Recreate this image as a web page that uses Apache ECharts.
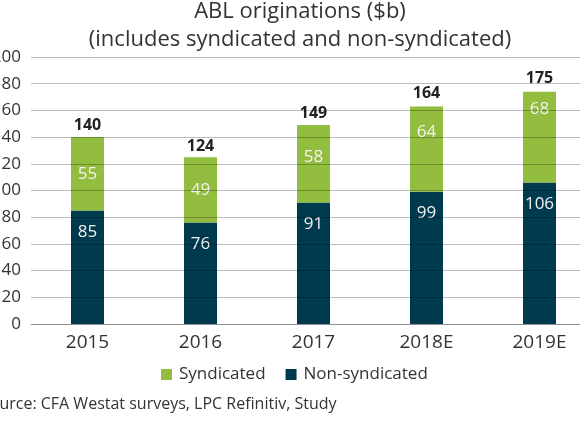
<!DOCTYPE html>
<html>
<head>
<meta charset="utf-8">
<script src="https://cdn.jsdelivr.net/npm/echarts@6/dist/echarts.min.js"></script>
<style>
    html, body { margin: 0; padding: 0; background: #fff; }
    #chart { width: 580px; height: 435px; }
</style>
</head>
<body>
<div id="chart"></div>
<script>
// chart data
const years = ['2015', '2016', '2017', '2018E', '2019E'];
const nonSyndicated = [85, 76, 91, 99, 106];
const syndicated = [55, 49, 58, 64, 68];
const totals = [140, 124, 149, 164, 175];
const yTicks = [0, 20, 40, 60, 80, 100, 120, 140, 160, 180, 200];

// label nudges for the syndicated values (px, as placed in the original)
const synLabelShift = [0, 0, -7, -17, -28];

const green = '#92bd3e';
const navy = '#003a4e';
const font = '"Open Sans", "Noto Sans", sans-serif';

var myChart = echarts.init(document.getElementById('chart'));

var option = {
    animation: false,
    textStyle: { fontFamily: font },
    title: {
        text: 'ABL originations ($b)\n(includes syndicated and non-syndicated)',
        left: 295,
        textAlign: 'center',
        top: -7,
        textStyle: {
            fontFamily: font,
            fontSize: 22,
            fontWeight: 'normal',
            color: '#333',
            lineHeight: 28
        }
    },
    legend: {
        data: ['Syndicated', 'Non-syndicated'],
        left: 156,
        top: 361,
        icon: 'rect',
        itemWidth: 11,
        itemHeight: 11,
        itemGap: 20,
        textStyle: {
            fontFamily: font,
            fontSize: 17,
            color: '#333',
            padding: [0, 0, 0, 2]
        }
    },
    grid: {
        left: 31,
        top: 57,
        width: 565,
        bottom: 111,
        containLabel: false,
        outerBoundsMode: 'none'
    },
    xAxis: {
        type: 'category',
        data: years,
        axisTick: { show: false },
        axisLine: { lineStyle: { color: '#bdbdbd', width: 1 } },
        axisLabel: {
            fontFamily: font,
            fontSize: 19,
            color: '#333',
            margin: 9
        }
    },
    yAxis: {
        type: 'value',
        min: yTicks[0],
        max: yTicks[yTicks.length - 1],
        interval: 20,
        z: 3,
        axisLine: { show: false },
        axisTick: { show: false },
        splitLine: { lineStyle: { color: 'rgba(0,0,0,0.26)', width: 1 } },
        axisLabel: {
            fontFamily: font,
            fontSize: 17,
            color: '#333',
            margin: 10
        }
    },
    series: [
        {
            name: 'Non-syndicated',
            type: 'bar',
            stack: 'abl',
            barWidth: 33,
            itemStyle: { color: navy },
            label: {
                show: true,
                position: 'insideTop',
                distance: 13,
                fontFamily: font,
                fontSize: 17,
                color: '#f2f2f2'
            },
            data: nonSyndicated
        },
        {
            name: 'Syndicated',
            type: 'bar',
            stack: 'abl',
            barWidth: 33,
            itemStyle: { color: green },
            label: {
                show: true,
                position: 'inside',
                fontFamily: font,
                fontSize: 17,
                color: '#f4f4f4'
            },
            data: syndicated.map(function (v, i) {
                return { value: v, label: { offset: [0, synLabelShift[i]] } };
            })
        },
        {
            name: 'Total',
            type: 'bar',
            barWidth: 33,
            barGap: '-100%',
            z: 1,
            itemStyle: { color: 'rgba(0,0,0,0)' },
            label: {
                show: true,
                position: 'top',
                distance: 4,
                fontFamily: font,
                fontSize: 16,
                fontWeight: 'bold',
                color: '#222'
            },
            tooltip: { show: false },
            data: totals
        }
    ],
    graphic: [
        {
            type: 'text',
            x: -19,
            y: 396,
            style: {
                text: 'Source: CFA Westat surveys, LPC Refinitiv, Study',
                font: '16px ' + font,
                fill: '#333'
            }
        }
    ]
};

myChart.setOption(option);
</script>
</body>
</html>
